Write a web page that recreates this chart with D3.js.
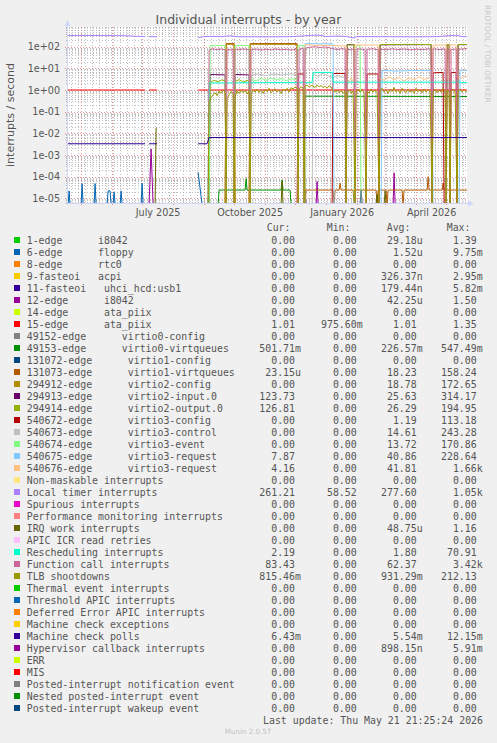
<!DOCTYPE html>
<html><head><meta charset="utf-8">
<script src="https://cdn.jsdelivr.net/npm/d3@7"></script>
<style>
html,body{margin:0;padding:0;background:#F0F0F0;}
svg{display:block;}
.mono{font-family:"DejaVu Sans Mono",monospace;white-space:pre;}
.sans{font-family:"DejaVu Sans",sans-serif;}
</style></head><body><svg id="c" width="497" height="743"></svg>
<script>
// ---------- chart text ----------
const chartTitle = "Individual interrupts - by year";
const yLabel = "interrupts / second";
const yTickVals = [1e2, 1e1, 1e0, 1e-1, 1e-2, 1e-3, 1e-4, 1e-5];
const yTickLabels = ["1e+02","1e+01","1e+00","1e-01","1e-02","1e-03","1e-04","1e-05"];
const xTickMonths = ["2025-07","2025-10","2026-01","2026-04"];
const xTickLabels = ["July 2025","October 2025","January 2026","April 2026"];
const lastUpdate = "Last update: Thu May 21 21:25:24 2026";
const footer = "Munin 2.0.57";
const sideText = "RRDTOOL / TOBI OETIKER";

// ---------- legend ----------
const legendLabels = [
"1-edge      i8042","6-edge      floppy","8-edge      rtc0","9-fasteoi   acpi",
"11-fasteoi   uhci_hcd:usb1","12-edge      i8042","14-edge      ata_piix","15-edge      ata_piix",
"49152-edge      virtio0-config","49153-edge      virtio0-virtqueues",
"131072-edge      virtio1-config","131073-edge      virtio1-virtqueues",
"294912-edge      virtio2-config","294913-edge      virtio2-input.0","294914-edge      virtio2-output.0",
"540672-edge      virtio3-config","540673-edge      virtio3-control","540674-edge      virtio3-event",
"540675-edge      virtio3-request","540676-edge      virtio3-request",
"Non-maskable interrupts","Local timer interrupts","Spurious interrupts",
"Performance monitoring interrupts","IRQ work interrupts","APIC ICR read retries",
"Rescheduling interrupts","Function call interrupts","TLB shootdowns",
"Thermal event interrupts","Threshold APIC interrupts","Deferred Error APIC interrupts",
"Machine check exceptions","Machine check polls","Hypervisor callback interrupts",
"ERR","MIS","Posted-interrupt notification event","Nested posted-interrupt event",
"Posted-interrupt wakeup event"];
const seriesColors = [
"#00CC00","#0066B3","#FF8000","#FFCC00","#330099","#990099","#CCFF00","#FF0000",
"#808080","#008F00","#00487D","#B35A00","#B38F00","#6B006B","#8FB300","#B30000",
"#BEBEBE","#80FF80","#80C9FF","#FFC080","#FFE680","#AA80FF","#EE00CC","#FF8080",
"#666600","#FFBFFF","#00FFCC","#CC6699","#999900",
"#00CC00","#0066B3","#FF8000","#FFCC00","#330099","#990099","#CCFF00","#FF0000",
"#808080","#008F00","#00487D"];
const legendCur = ["0.00","0.00","0.00","0.00","0.00","0.00","0.00","1.01","0.00","501.71m","0.00","23.15u","0.00","123.73","126.81","0.00","0.00","0.00","7.87","4.16","0.00","261.21","0.00","0.00","0.00","0.00","2.19","83.43","815.46m","0.00","0.00","0.00","0.00","6.43m","0.00","0.00","0.00","0.00","0.00","0.00"];
const legendMin = ["0.00","0.00","0.00","0.00","0.00","0.00","0.00","975.60m","0.00","0.00","0.00","0.00","0.00","0.00","0.00","0.00","0.00","0.00","0.00","0.00","0.00","58.52","0.00","0.00","0.00","0.00","0.00","0.00","0.00","0.00","0.00","0.00","0.00","0.00","0.00","0.00","0.00","0.00","0.00","0.00"];
const legendAvg = ["29.18u","1.52u","0.00","326.37n","179.44n","42.25u","0.00","1.01","0.00","226.57m","0.00","18.23","18.78","25.63","26.29","1.19","14.61","13.72","40.86","41.81","0.00","277.60","0.00","0.00","48.75u","0.00","1.80","62.37","931.29m","0.00","0.00","0.00","0.00","5.54m","898.15n","0.00","0.00","0.00","0.00","0.00"];
const legendMax = ["1.39","9.75m","0.00","2.95m","5.82m","1.50","0.00","1.35","0.00","547.49m","0.00","158.24","172.65","314.17","194.95","113.18","243.28","170.86","228.64","1.66k","0.00","1.05k","0.00","0.00","1.16","0.00","70.91","3.42k","212.13","0.00","0.00","0.00","0.00","12.15m","5.91m","0.00","0.00","0.00","0.00","0.00"];

// ---------- series values: [day offset from 2026-01-01, value]; null = no data ----------
const preGap = [[-259,0],[-181,0],[-180,null],[-177,0],[-169,0],[-168,null]];
const zeroSeries = [...preGap,[-128,0],[141,0]];
const floppy = [[-259,0],[-258,0],[-257,2.2e-5],[-256,0],[-245,0],[-244,4.8e-5],[-243,0],[-232,0],[-231,4.8e-5],[-230,0],[-219,0],[-218,2.2e-5],[-216,2.2e-5],[-215,0],[-213,0],[-212,2e-5],[-211,0],[-206,0],[-205,2.2e-5],[-204,0],[-185,0],[-184,5e-5],[-183,0],[-181,0],[-180,null],[-177,0],[-169,0],[-168,null],[-128,1.6e-4],[-124,0],[141,0]];
const usb1 = [...preGap,[-128,0],[34,0],[35,2.5e-5],[36,0],[141,0]];
const i8042b = [[-259,0],[-181,0],[-180,null],[-177,0],[-175,0.0019],[-173,0],[-169,0],[-168,null],[-128,0],[-22,0],[-21,2.4e-5],[-20,0],[-10,0],[-9,6e-5],[-8,0],[67,0],[68,1.5e-4],[69,0],[141,0]];
const ataPiix15 = [[-259,1.0],[-181,1.0],[-180,null],[-177,1.0],[-169,1.0],[-168,null],[-128,1.0],[141,1.01]];
const virtio0q = [...preGap,[-128,0],[-108,0],[-107,2.4e-5],[-81,2.4e-5],[-80,8e-5],[-79,2.4e-5],[-45,2.4e-5],[-44,7e-5],[-43,2.4e-5],[-36,2.4e-5],[-35,0],[-22,0],[-21,0.52],[60,0.51],[141,0.50]];
const virtio1q = [...preGap,[-128,0],[-101,0],[-100,140],[-92,140],[-91,0],[-77,0],[-76,140],[-29,140],[-28,0],[-21,0],[-20,2.4e-5],[7,2.4e-5],[8,0],[9,2.4e-5],[13,2.4e-5],[14,5e-5],[15,2.4e-5],[27,2.4e-5],[28,0],[29,2.4e-5],[50,2.4e-5],[51,0],[52,2.4e-5],[60,2.4e-5],[61,0],[62,2.4e-5],[76,2.4e-5],[77,0],[78,2.4e-5],[101,2.4e-5],[102,1e-4],[103,2.4e-5],[116,2.4e-5],[117,5e-5],[118,2.4e-5],[141,2.4e-5]];
const virtio2cfg = [...preGap,[-128,0],[-101,0],[-100,128],[-92,128],[-91,0],[-77,0],[-76,128],[-29,128],[-28,0],[141,0]];
const virtio2in = [...preGap,[-128,0],[-117,0],[-116,5.2],[-101,5.0],[-100,0],[-92,0],[-91,5.2],[-77,5.0],[-76,0],[20,0],[21,125],[28,125],[29,0],[53,0],[54,122],[105,125],[106,0],[120,0],[121,125],[123,125],[124,0],[131,0],[132,124],[141,124]];
const virtio2out = [...preGap,[-128,0],[-117,0],[-116,2.2],[-112,2.8],[-108,2.4],[-104,3.0],[-101,2.6],[-100,0],[-92,0],[-91,2.5],[-87,3.0],[-83,2.3],[-79,2.8],[-77,2.5],[-76,0],[20,0],[21,120],[28,122],[29,0],[53,0],[54,125],[80,128],[105,126],[106,0],[120,0],[121,127],[123,127],[124,0],[131,0],[132,127],[141,127]];
const virtio3cfg = [...preGap,[-128,0],[-29,0],[-28,5.5],[-22,5.5],[-21,0],[6,0],[7,5.8],[19,5.8],[20,0],[40,0],[41,5.5],[52,5.5],[53,0],[106,0],[107,6.2],[117,6.5],[118,0],[124,0],[125,6.5],[130,6.5],[131,0],[141,0]];
const virtio3ctl = [...preGap,[-128,0],[-76,0],[-75,4.8],[-68,5.5],[-60,4.6],[-52,5.4],[-44,4.9],[-36,5.6],[-29,5.0],[-28,0],[-14,0],[-13,5.5],[-8,4.2],[-3,6.0],[2,4.5],[7,3.8],[12,4.6],[19,3.6],[20,0],[141,0]];
const virtio3evt = [...preGap,[-128,0],[-117,0],[-116,112],[-101,112],[-100,0],[-92,0],[-91,112],[-77,112],[-76,0],[-75,3.2],[-70,2.6],[-65,3.5],[-60,2.8],[-55,3.6],[-50,2.9],[-45,3.4],[-40,2.7],[-35,3.3],[-29,3.0],[-28,112],[-22,112],[-21,0],[28,0],[29,110],[34,110],[35,0],[141,0]];
const virtio3req1 = [...preGap,[-128,0],[-22,0],[-21,138],[7,135],[8,0],[55,0],[56,8],[70,7.5],[90,8],[106,7.8],[107,0],[133,0],[134,8.2],[141,7.9]];
const virtio3req2 = [...preGap,[-128,0],[-22,0],[-21,125],[-13,118],[7,112],[20,108],[21,3.0],[23,2.4],[25,3.4],[27,2.6],[28,3.2],[29,120],[52,120],[53,3.5],[58,2.8],[63,4.0],[68,3.0],[73,3.8],[78,2.6],[83,3.6],[88,2.9],[93,4.1],[98,3.0],[103,3.7],[106,3.2],[107,120],[120,120],[121,3.5],[123,3.3],[124,120],[130,120],[131,4.0],[135,3.4],[138,4.3],[141,4.16]];
const localTimer = [[-259,330],[-230,330],[-200,320],[-190,300],[-181,300],[-180,null],[-177,290],[-169,290],[-168,null],[-128,260],[-124,285],[-118,300],[-105,290],[-95,320],[-90,290],[-60,285],[-35,290],[-20,320],[-12,340],[-4,330],[0,290],[3,300],[10,310],[20,300],[28,250],[30,290],[60,290],[90,285],[110,290],[125,330],[133,320],[136,290],[141,290]];
const irqWork = [[-259,0],[-181,0],[-180,null],[-177,0],[-171,0],[-170,0.018],[-169.5,0.018],[-168,null],[-128,0],[-45,0],[-44,6e-5],[-43,0],[50,0],[51,1.5e-5],[52,0],[58,0],[59,2.2e-5],[60,0],[141,0]];
const resched = [...preGap,[-128,0],[-118,0],[-117,2.1],[-60,2.2],[-14,2.2],[-13,6.5],[6,6.5],[7,2.3],[60,2.3],[131,2.3],[132,2.8],[134,2.2],[141,2.19]];
const funcCall = [...preGap,[-128,0],[-118,0],[-117,70],[-113,80],[-109,72],[-105,78],[-101,74],[-100,0],[-99,76],[-95,70],[-93,74],[-92,0],[-91,78],[-87,72],[-83,80],[-79,74],[-77,76],[-76,0],[-75,72],[-70,78],[-65,70],[-60,76],[-55,71],[-50,79],[-45,72],[-40,77],[-35,70],[-29,75],[-28,0],[-27,78],[-23,82],[-22,0],[-21,85],[-16,95],[-11,100],[-6,92],[-1,98],[3,90],[7,80],[12,74],[16,82],[19,76],[20,0],[21,78],[25,72],[28,80],[29,0],[30,76],[35,78],[39,72],[40,0],[41,76],[46,80],[52,73],[53,0],[54,78],[60,72],[66,80],[72,74],[78,79],[84,71],[90,77],[96,73],[102,79],[105,75],[106,0],[107,80],[113,74],[119,78],[120,0],[121,76],[123,80],[124,0],[125,74],[130,78],[131,0],[132,80],[136,76],[141,83.4]];
const tlb = [...preGap,[-128,0],[-118,0],[-117,0.3],[-115,0.45],[-113,0.6],[-111,0.75],[-109,0.55],[-107,0.9],[-105,0.7],[-103,1.0],[-101,0.8],[-100,0],[-99,0.4],[-97,0.6],[-95,0.85],[-93,0.7],[-92,0],[-91,0.5],[-89,0.9],[-87,0.7],[-85,1.0],[-83,0.75],[-81,0.95],[-79,0.65],[-77,0.9],[-76,0],[-75,0.7],[-73,1.0],[-71,0.8],[-69,1.1],[-67,0.75],[-65,1.0],[-63,0.7],[-61,1.05],[-59,0.85],[-57,1.2],[-55,0.75],[-53,0.95],[-51,1.15],[-49,0.8],[-47,1.0],[-45,0.7],[-43,1.1],[-41,0.9],[-39,1.2],[-37,0.8],[-35,1.3],[-33,1.1],[-31,1.4],[-29,1.2],[-28,0],[-27,1.1],[-25,1.4],[-23,1.2],[-22,0],[-21,1.5],[-19,1.7],[-17,1.4],[-15,1.6],[-13,1.5],[-11,1.3],[-9,1.7],[-7,1.4],[-5,1.6],[-3,1.3],[-1,1.5],[1,1.2],[3,1.6],[5,1.4],[7,0.9],[9,0.8],[11,1.0],[13,0.75],[15,0.95],[17,0.7],[19,0.9],[20,0],[21,0.8],[23,1.0],[25,0.7],[27,0.9],[29,0],[30,0.8],[32,1.1],[34,0.8],[36,1.0],[38,0.75],[40,0],[41,0.9],[43,0.7],[45,1.1],[47,0.8],[49,1.0],[51,0.75],[53,0],[54,0.9],[56,1.2],[58,0.8],[60,1.0],[62,0.7],[64,1.1],[66,0.85],[68,1.3],[70,0.8],[72,1.0],[74,0.7],[76,1.2],[78,0.9],[80,0.75],[82,1.1],[84,0.8],[86,1.0],[88,0.7],[90,1.2],[92,0.85],[94,1.0],[96,0.75],[98,1.1],[100,0.8],[102,1.0],[104,0.9],[106,0],[107,0.8],[109,1.1],[111,0.75],[113,1.0],[115,0.8],[117,1.2],[119,0.9],[120,0],[121,1.0],[123,0.8],[124,0],[125,0.9],[127,1.1],[129,0.8],[131,0],[132,0.9],[134,1.1],[136,0.8],[138,1.0],[140,0.85],[141,0.815]];
const mcePolls = [[-259,0.0033],[-181,0.0033],[-180,null],[-177,0.0033],[-169,0.0033],[-168,null],[-128,0.0033],[-119,0.0033],[-117,0.0064],[141,0.0064]];

const seriesData = [
  zeroSeries, floppy, zeroSeries, zeroSeries, usb1, i8042b, zeroSeries, ataPiix15,
  zeroSeries, virtio0q, zeroSeries, virtio1q, virtio2cfg, virtio2in, virtio2out,
  virtio3cfg, virtio3ctl, virtio3evt, virtio3req1, virtio3req2,
  zeroSeries, localTimer, zeroSeries, zeroSeries, irqWork, zeroSeries, resched, funcCall, tlb,
  zeroSeries, zeroSeries, zeroSeries, zeroSeries, mcePolls, zeroSeries,
  zeroSeries, zeroSeries, zeroSeries, zeroSeries, zeroSeries];

// ---------- drawing ----------
const W = 497, H = 743;
const PL = 67, PR = 467, PT = 27, PB = 203;
const END = new Date(2026, 4, 21, 21, 25, 24);
const START = new Date(END.getTime() - 400 * 864e5);
const T0 = new Date(2026, 0, 1);
const toDate = d => new Date(T0.getTime() + d * 864e5);

const x = d3.scaleTime().domain([START, END]).range([PL, PR]);
const y = d3.scaleLog().domain([1e-5, 1e2]).range([198.3, 46.7]);

const svg = d3.select("#c");
svg.append("rect").attr("width", W).attr("height", H).attr("fill", "#F0F0F0");
svg.append("rect").attr("x", PL).attr("y", PT).attr("width", PR - PL).attr("height", PB - PT).attr("fill", "#FFFFFF");

const grid = svg.append("g");
const MINOR = "rgba(140,140,140,0.55)", MAJOR = "rgba(230,80,80,0.6)";
// horizontal minor / major grid
for (let k = -6; k <= 2; k++) {
  for (let m = 1; m <= 9; m++) {
    const v = m * Math.pow(10, k);
    const yy = Math.round(y(v)) + 0.5;
    if (yy < PT || yy > PB) continue;
    grid.append("line").attr("x1", m === 1 ? PL - 2 : PL - 1).attr("x2", PR).attr("y1", yy).attr("y2", yy)
      .attr("stroke", m === 1 ? MAJOR : MINOR).attr("stroke-width", 1).attr("stroke-dasharray", m === 1 ? null : null)
      .attr("stroke-dasharray", "1,2");
  }
}
// vertical minor (weeks) and major (months)
d3.timeMonday.range(START, END).forEach(t => {
  const xx = Math.round(x(t)) + 0.5;
  grid.append("line").attr("x1", xx).attr("x2", xx).attr("y1", PT).attr("y2", PB + 1)
    .attr("stroke", MINOR).attr("stroke-dasharray", "1,2");
});
d3.timeMonth.range(START, END).forEach(t => {
  const xx = Math.round(x(t)) + 0.5;
  grid.append("line").attr("x1", xx).attr("x2", xx).attr("y1", PT).attr("y2", PB + 2)
    .attr("stroke", MAJOR).attr("stroke-dasharray", "1,2");
});

// series
svg.append("clipPath").attr("id", "clip").append("rect").attr("x", PL).attr("y", PT).attr("width", PR - PL).attr("height", PB - PT + 0.5);
const line = d3.line()
  .defined(p => p[1] !== null)
  .x(p => x(toDate(p[0])))
  .y(p => p[1] > 0 ? Math.min(y(p[1]), 204.5) : 204.5);
const gs = svg.append("g").attr("clip-path", "url(#clip)");
seriesData.forEach((s, i) => {
  gs.append("path").attr("d", line(s)).attr("fill", "none")
    .attr("stroke", seriesColors[i]).attr("stroke-width", 1).attr("stroke-linejoin", "round");
});

// axes lines + arrows
const AX = "#CFD6F8";
svg.append("line").attr("x1", PL + 0.5).attr("x2", PL + 0.5).attr("y1", PB + 2).attr("y2", 24).attr("stroke", AX);
svg.append("line").attr("x1", PL - 2).attr("x2", 470).attr("y1", PB + 0.5).attr("y2", PB + 0.5).attr("stroke", AX);
svg.append("path").attr("d", `M${PL - 2.5},26 L${PL + 3.5},26 L${PL + 0.5},20 Z`).attr("fill", AX);
svg.append("path").attr("d", `M468,${PB - 2.5} L468,${PB + 3.5} L474,${PB + 0.5} Z`).attr("fill", AX);

// y axis labels
const yAxis = d3.axisLeft(y).tickValues(yTickVals).tickFormat((d, i) => yTickLabels[i]).tickSize(0).tickPadding(7);
const gy = svg.append("g").attr("transform", `translate(${PL},0)`).call(yAxis);
gy.select(".domain").remove();
gy.selectAll("text").attr("class", "sans").attr("font-size", 9.6).attr("fill", "#555").attr("font-family", "DejaVu Sans");

// x axis labels (centred on the month)
const monthStarts = xTickMonths.map(s => d3.timeParse("%Y-%m")(s));
const labelDates = monthStarts.map(m => new Date((m.getTime() + d3.timeMonth.offset(m, 1).getTime()) / 2));
const xAxis = d3.axisBottom(x).tickValues(labelDates).tickFormat((d, i) => xTickLabels[i]).tickSize(0).tickPadding(6.4);
const gx = svg.append("g").attr("transform", `translate(0,${PB})`).call(xAxis);
gx.select(".domain").remove();
gx.selectAll("text").attr("font-size", 9.6).attr("fill", "#555").attr("font-family", "DejaVu Sans");

// title, y label, side text
svg.append("text").attr("class", "sans").attr("x", 248.5).attr("y", 23.5).attr("text-anchor", "middle")
  .attr("font-size", 12.5).attr("fill", "#555").text(chartTitle);
svg.append("text").attr("class", "sans").attr("transform", "translate(14,115) rotate(-90)").attr("text-anchor", "middle")
  .attr("font-size", 11).attr("fill", "#555").text(yLabel);
svg.append("text").attr("class", "sans").attr("transform", "translate(485,5) rotate(90)")
  .attr("font-size", 7.6).attr("fill", "#C8C8C8").text(sideText);

// legend
const LF = 9.9;
const hdr = [["Cur:", 266.7], ["Min:", 326.7], ["Avg:", 386.7], ["Max:", 446.7]];
hdr.forEach(h => svg.append("text").attr("class", "mono").attr("x", h[0] ? h[1] : 0).attr("y", 231)
  .attr("font-size", LF).attr("fill", "#555").text(h[0]));
const cols = [295, 356.7, 416.7, 476.7];
const stats = [legendCur, legendMin, legendAvg, legendMax];
legendLabels.forEach((lab, i) => {
  const cy = 240 + 12 * i;
  svg.append("rect").attr("x", 14).attr("y", cy - 3).attr("width", 6).attr("height", 6).attr("fill", seriesColors[i]);
  svg.append("text").attr("class", "mono").attr("x", 26.7).attr("y", cy + 3.6).attr("font-size", LF).attr("fill", "#555").text(lab);
  stats.forEach((arr, c) => {
    const s = arr[i];
    const m = s.match(/^([0-9.]+)([a-zA-Z]?)$/);
    svg.append("text").attr("class", "mono").attr("x", cols[c]).attr("y", cy + 3.6).attr("text-anchor", "end")
      .attr("font-size", LF).attr("fill", "#555").text(m[1]);
    if (m[2]) svg.append("text").attr("class", "mono").attr("x", cols[c]).attr("y", cy + 3.6)
      .attr("font-size", LF).attr("fill", "#555").text(m[2]);
  });
});
svg.append("text").attr("class", "mono").attr("x", 483).attr("y", 723.6).attr("text-anchor", "end")
  .attr("font-size", LF).attr("fill", "#555").text(lastUpdate);
svg.append("text").attr("class", "sans").attr("x", 248).attr("y", 734).attr("text-anchor", "middle")
  .attr("font-size", 7.1).attr("fill", "#C0C0C0").text(footer);
</script></body></html>
